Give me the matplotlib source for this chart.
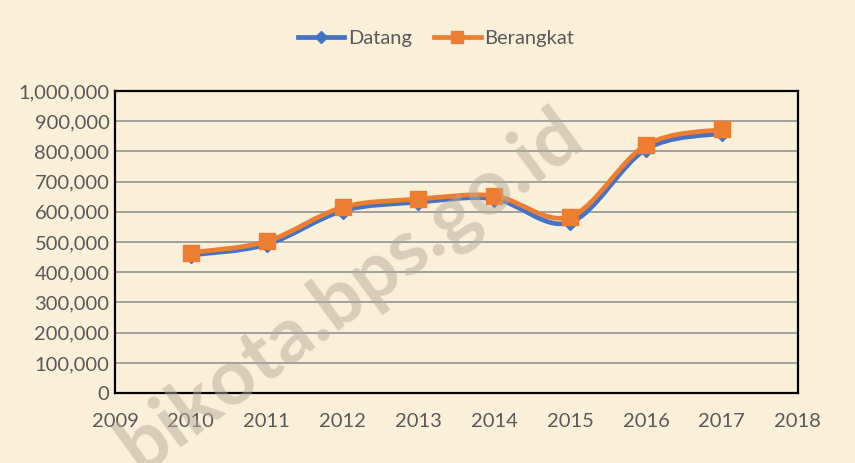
import numpy as np
import matplotlib.pyplot as plt
from matplotlib.path import Path
from matplotlib.patches import PathPatch
from matplotlib.ticker import FuncFormatter

years = [2010, 2011, 2012, 2013, 2014, 2015, 2016, 2017]
datang = [457000, 492000, 603000, 632000, 643000, 565000, 807000, 860000]
berangkat = [465000, 502000, 615000, 642000, 653000, 584000, 821000, 873000]

BG = '#FAF0DA'
plt.rcParams['font.family'] = ['Lato', 'DejaVu Sans']


def smooth_path(x, y):
    # bezier path like excel "smoothed line"
    x = np.asarray(x, float)
    y = np.asarray(y, float)
    n = len(x)
    verts = [(x[0], y[0])]
    codes = [Path.MOVETO]
    for i in range(n - 1):
        p0 = i - 1 if i > 0 else i
        p3 = i + 2 if i + 2 < n else i + 1
        c1 = (x[i] + (x[i + 1] - x[p0]) / 6, y[i] + (y[i + 1] - y[p0]) / 6)
        c2 = (x[i + 1] - (x[p3] - x[i]) / 6, y[i + 1] - (y[p3] - y[i]) / 6)
        verts += [c1, c2, (x[i + 1], y[i + 1])]
        codes += [Path.CURVE4] * 3
    return Path(verts, codes)


fig = plt.figure(figsize=(8.55, 4.63), dpi=100, facecolor=BG)
ax = fig.add_axes([0.1345, 0.151, 0.7985, 0.6525])
ax.set_facecolor(BG)

for vals, col, mk, ms, lbl, z in [(datang, '#4472C4', 'D', 8, 'Datang', 3),
                                   (berangkat, '#ED7D31', 's', 12, 'Berangkat', 4)]:
    ax.add_patch(PathPatch(smooth_path(years, vals), fill=False, edgecolor=col,
                           lw=3.4, zorder=z, capstyle='round'))
    ax.plot(years, vals, ls='none', marker=mk, ms=ms, color=col, zorder=z + 0.5)
    ax.plot([], [], color=col, lw=3.4, marker=mk, ms=ms * 0.75, label=lbl)

ax.set_xlim(2009, 2018)
ax.set_ylim(0, 1000000)
ax.set_xticks(range(2009, 2019))
ax.set_yticks(range(0, 1000001, 100000))
ax.yaxis.set_major_formatter(FuncFormatter(lambda v, p: f'{int(v):,}'))
ax.tick_params(length=0, labelsize=14.5, labelcolor='#595959', pad=4)
ax.tick_params(axis='x', pad=14)
ax.grid(axis='y', color='#A0A0A0', lw=1.4)
ax.set_axisbelow(True)
for s in ax.spines.values():
    s.set_color('black')
    s.set_linewidth(1.6)

fig.legend(loc='upper center', bbox_to_anchor=(0.51, 0.975), ncol=2, frameon=False,
           fontsize=14.5, labelcolor='#595959', handlelength=2.3, columnspacing=1.1,
           handletextpad=0.2)

# watermark
fig.text(0.41, 0.37, 'bikota.bps.go.id', rotation=36.5, fontsize=57, fontweight='bold',
         color='#B5AB99', alpha=0.5, ha='center', va='center', zorder=10,
         rotation_mode='anchor')

fig.savefig('out.png', dpi=100, facecolor=BG)
